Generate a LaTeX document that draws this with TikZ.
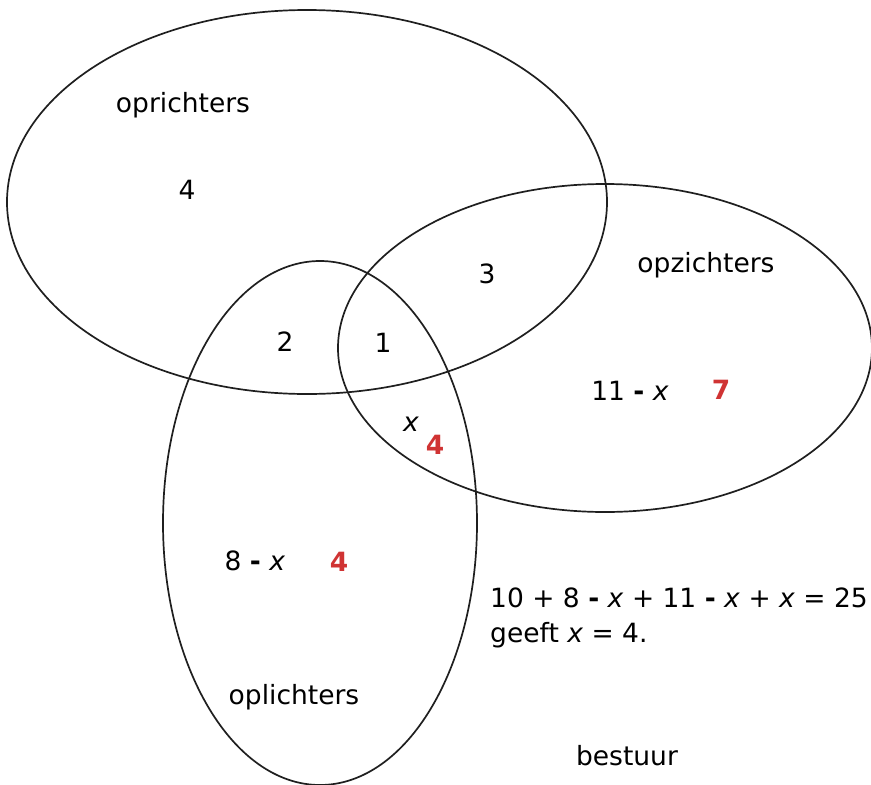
\documentclass[tikz,border=0pt]{standalone}
\usepackage{fontspec}
\setmainfont{DejaVu Sans}
\definecolor{redn}{HTML}{D03333}
\newcommand{\bh}{\textbf{-}}
\begin{document}
\begin{tikzpicture}[x=1pt,y=-1pt,
  lbl/.style={font=\fontsize{26.5}{35}\selectfont, inner sep=0pt, yshift=-2.5pt},
  rn/.style={lbl, text=redn, font=\fontsize{26.5}{35}\selectfont\bfseries},
  setline/.style={draw=black!88, line width=1.7pt}]
\useasboundingbox (0,0) rectangle (871,785);
\begin{scope}
\clip (0,0) rectangle (871,785);
\draw[setline] (307,202) ellipse [x radius=300, y radius=192];
\draw[setline] (605,348) ellipse [x radius=267, y radius=164];
\draw[setline] (320,523) ellipse [x radius=157, y radius=262];
\end{scope}
\node[lbl] (opr) at (183,103) {oprichters};
\node[lbl] (n4) at (187,187) {4};
\node[lbl] (n3) at (487,271) {3};
\node[lbl] (opz) at (706,263) {opzichters};
\node[lbl] (n2) at (285,339) {2};
\node[lbl] (n1) at (383,340) {1};
\node[lbl] (n11) at (630,388) {11 \bh{} \textit{x}};
\node[rn] (r7) at (721,387) {7};
\node[lbl] (nx) at (411,422) {\textit{x}};
\node[rn] (r4a) at (435,442) {4};
\node[lbl] (n8) at (255,558) {8 \bh{} \textit{x}};
\node[rn] (r4b) at (339,559) {4};
\node[lbl, anchor=west, align=left] (eq) at (490,615) {10 + 8 \bh{} \textit{x} + 11 \bh{} \textit{x} + \textit{x} = 25\\geeft \textit{x} = 4.};
\node[lbl] (opl) at (294,695) {oplichters};
\node[lbl] (bes) at (627,753) {bestuur};
\end{tikzpicture}
\end{document}
